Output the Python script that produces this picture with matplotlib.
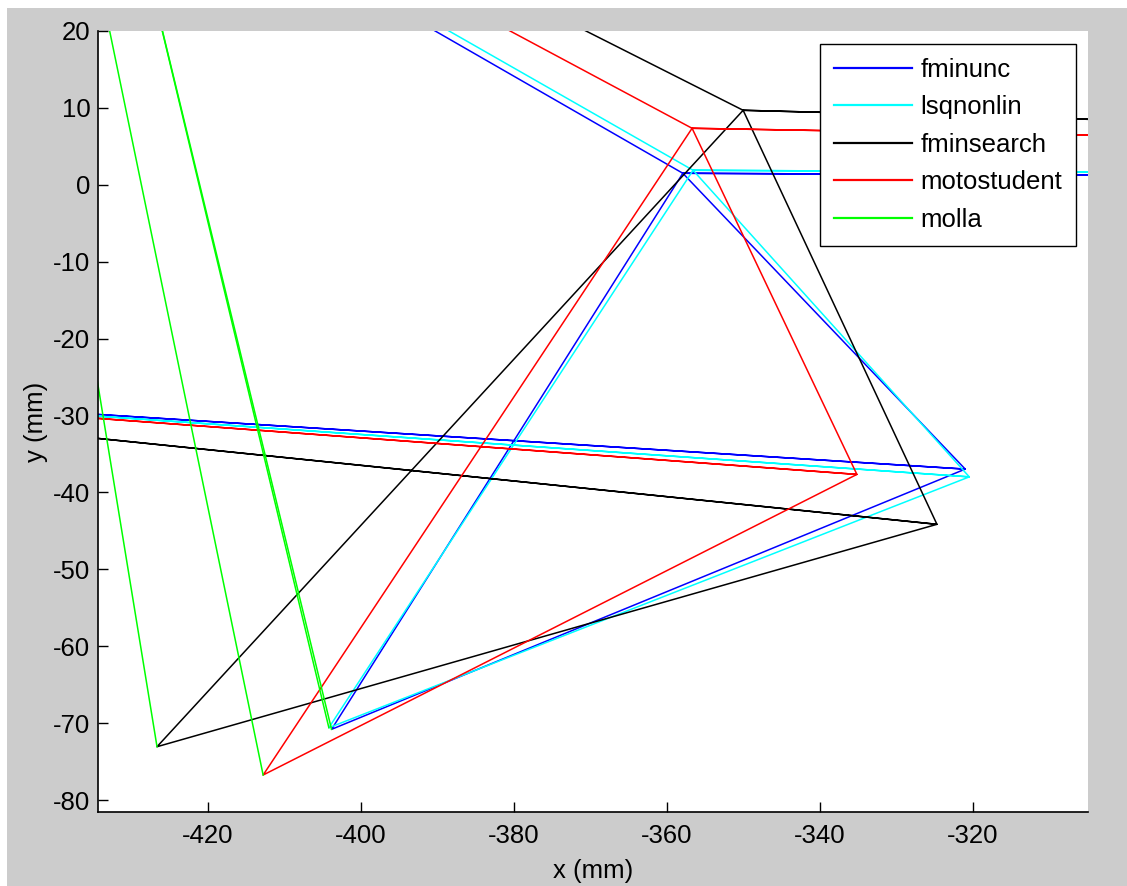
import matplotlib
matplotlib.use("Agg")
import matplotlib.pyplot as plt
from matplotlib.patches import Rectangle

# Linkage configurations, one per optimiser / reference design
labels = ["fminunc", "lsqnonlin", "fminsearch", "motostudent"]
colors = ["#0000ff", "#00ffff", "#000000", "#ff0000"]

# rocker upper joint
upper_x = [-357.9, -356.56, -350.01, -356.69]
upper_y = [1.5, 1.89, 9.69, 7.35]
# rocker rear joint
rear_x = [-320.96, -320.43, -324.66, -335.13]
rear_y = [-36.97, -37.98, -44.15, -37.66]
# rocker lower joint (spring mount)
lower_x = [-403.85, -404.2, -426.68, -412.8]
lower_y = [-70.81, -70.6, -73.07, -76.75]
# far end of the upper link
top_x = [-407.8, -406.1, -390.5, -399.3]
top_y = [30.0, 30.0, 30.0, 30.0]
# far end of the rear link
back_x = [-295.0, -295.0, -295.0, -295.0]
back_y = [1.2, 1.6, 8.26, 6.27]
# far end of the front link
front_x = [-445.0, -445.0, -445.0, -445.0]
front_y = [-29.2, -29.35, -31.9, -29.6]
# spring top mount
spring_x = [-428.4, -428.4, -443.6, -434.95]
spring_y = [30.0, 30.0, 30.0, 30.0]

x_ticks = [-420, -400, -380, -360, -340, -320]
y_ticks = [-80, -70, -60, -50, -40, -30, -20, -10, 0, 10, 20]

plt.rcParams["font.family"] = ["Liberation Sans", "DejaVu Sans"]
plt.rcParams["axes.unicode_minus"] = False
FS = 18.5

fig = plt.figure(figsize=(11.27, 8.86), dpi=100, facecolor="white")
fig.patches.append(Rectangle((7 / 1127, 0), 1 - 7 / 1127, 1 - 8 / 886,
                             transform=fig.transFigure, facecolor="#cccccc",
                             edgecolor="none", zorder=-10))

ax = fig.add_axes([98 / 1127, 74 / 886, 990 / 1127, 781 / 886])
ax.set_facecolor("white")

lw = 1.1
for i, lab in enumerate(labels):
    xs = [top_x[i], upper_x[i], back_x[i], upper_x[i], rear_x[i], front_x[i],
          rear_x[i], lower_x[i], upper_x[i]]
    ys = [top_y[i], upper_y[i], back_y[i], upper_y[i], rear_y[i], front_y[i],
          rear_y[i], lower_y[i], upper_y[i]]
    ax.plot(xs, ys, color=colors[i], lw=lw, label=lab)

for i in range(len(labels)):
    ax.plot([lower_x[i], spring_x[i]], [lower_y[i], spring_y[i]],
            color="#00ff00", lw=lw, label="molla" if i == 0 else None)

ax.set_xlim(-434.4, -304.9)
ax.set_ylim(-81.56, 20)
ax.set_xticks(x_ticks)
ax.set_yticks(y_ticks)
ax.spines["top"].set_visible(False)
ax.spines["right"].set_visible(False)
for s in ("left", "bottom"):
    ax.spines[s].set_linewidth(1.2)
ax.tick_params(direction="in", length=7.5, width=1.0, labelsize=FS)
ax.tick_params(axis="x", pad=8.5)
ax.tick_params(axis="y", pad=5.5)

ax.set_xlabel("x (mm)", fontsize=FS, labelpad=8)
ax.set_ylabel("y (mm)", fontsize=FS, labelpad=4)

leg = ax.legend(loc="upper right", bbox_to_anchor=(0.9879, 0.9834),
                borderaxespad=0, fontsize=FS, fancybox=False, framealpha=1,
                edgecolor="black", handlelength=3.03, handletextpad=0.31,
                labelspacing=0.52, borderpad=0.55)
leg.get_frame().set_linewidth(1.0)
for h in leg.get_lines():
    h.set_linewidth(1.6)

fig.savefig("out.png", dpi=100, facecolor=fig.get_facecolor())
